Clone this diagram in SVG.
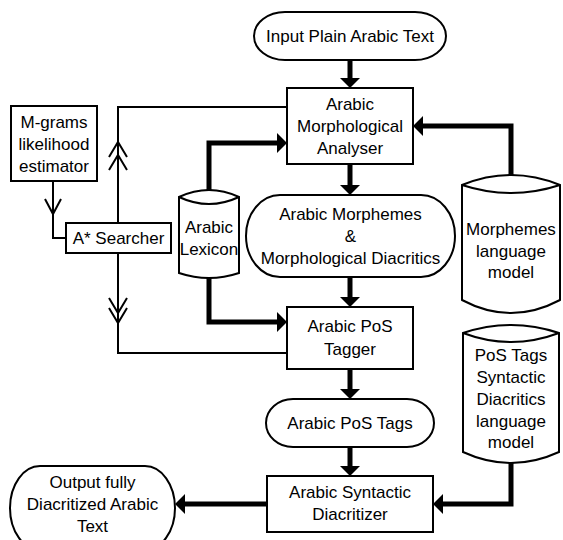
<svg xmlns="http://www.w3.org/2000/svg" width="563" height="540" viewBox="0 0 563 540">
<style>
.n{fill:#fff;stroke:#000;stroke-width:2}
.t{font-family:"Liberation Sans",Arial,sans-serif;font-size:17px;fill:#000;text-anchor:middle}
.thick{fill:none;stroke:#000;stroke-width:5;stroke-linejoin:miter}
.thin{fill:none;stroke:#000;stroke-width:2}
</style>
<defs>
<marker id="ah" viewBox="0 0 10 20" markerWidth="10" markerHeight="20" refX="1" refY="10" orient="auto" markerUnits="userSpaceOnUse">
<path d="M0,0 L10,10 L0,20 z" fill="#000"/>
</marker>
</defs>
<rect width="563" height="540" fill="#fff"/>
<g id="connectors">
<path class="thick" d="M350,60 L350,79" marker-end="url(#ah)"/>
<path class="thick" d="M350,164 L350,186" marker-end="url(#ah)"/>
<path class="thick" d="M350,277 L350,298" marker-end="url(#ah)"/>
<path class="thick" d="M350,369 L350,390" marker-end="url(#ah)"/>
<path class="thick" d="M350,447 L350,467" marker-end="url(#ah)"/>
<path class="thick" d="M209,190 L209,143 L278,143" marker-end="url(#ah)"/>
<path class="thick" d="M209,278 L209,322 L278,322" marker-end="url(#ah)"/>
<path class="thick" d="M511,175 L511,126 L422,126" marker-end="url(#ah)"/>
<path class="thick" d="M511,463 L511,504 L442,504" marker-end="url(#ah)"/>
<path class="thick" d="M267,504 L184,504" marker-end="url(#ah)"/>
<path class="thin" d="M53,181 L53,238 L66,238"/>
<polyline class="thin" points="45,199 53,214 61,199"/>
<path class="thin" d="M118,223 L118,107 L287,107"/>
<polyline class="thin" points="109,157 118,142 127,157"/>
<polyline class="thin" points="109,170 118,155 127,170"/>
<path class="thin" d="M118,253 L118,353 L287,353"/>
<polyline class="thin" points="109,298 118,313 127,298"/>
<polyline class="thin" points="109,308 118,323 127,308"/>
</g>
<g id="input">
<rect class="n" x="254" y="12" width="192" height="48" rx="31" ry="24"/>
<text class="t" x="350" y="42">Input Plain Arabic Text</text>
</g>
<g id="analyser">
<rect class="n" x="287" y="88" width="126" height="76"/>
<text class="t" x="350" y="110">Arabic</text>
<text class="t" x="350" y="132">Morphological</text>
<text class="t" x="350" y="154">Analyser</text>
</g>
<g id="mgrams">
<rect class="n" x="11" y="106" width="86" height="75"/>
<text class="t" x="54" y="128">M-grams</text>
<text class="t" x="54" y="150">likelihood</text>
<text class="t" x="54" y="172">estimator</text>
</g>
<g id="searcher">
<rect class="n" x="66" y="223" width="105" height="30"/>
<text class="t" x="118.5" y="244">A* Searcher</text>
</g>
<g id="lexicon">
<path class="n" d="M179,197 Q209,183 239,197 L239,273 Q209,283 179,273 Z"/>
<path class="n" d="M179,197 Q209,211 239,197" fill="none"/>
<text class="t" x="209" y="233">Arabic</text>
<text class="t" x="209" y="255">Lexicon</text>
</g>
<g id="morphemes">
<rect class="n" x="246" y="195" width="209" height="82" rx="34" ry="41"/>
<text class="t" x="350.5" y="220">Arabic Morphemes</text>
<text class="t" x="350.5" y="242">&amp;</text>
<text class="t" x="350.5" y="264">Morphological Diacritics</text>
</g>
<g id="morph-lm">
<path class="n" d="M462,185 Q511,165 560,185 L560,300 Q511,326 462,300 Z"/>
<path class="n" d="M462,185 Q511,201 560,185" fill="none"/>
<text class="t" x="511" y="235">Morphemes</text>
<text class="t" x="511" y="257">language</text>
<text class="t" x="511" y="278">model</text>
</g>
<g id="tagger">
<rect class="n" x="287" y="307" width="126" height="62"/>
<text class="t" x="350" y="332">Arabic PoS</text>
<text class="t" x="350" y="355">Tagger</text>
</g>
<g id="pos-lm">
<path class="n" d="M463,333 Q511,317 559,333 L559,452 Q511,474 463,452 Z"/>
<path class="n" d="M463,333 Q511,351 559,333" fill="none"/>
<text class="t" x="511" y="361">PoS Tags</text>
<text class="t" x="511" y="383">Syntactic</text>
<text class="t" x="511" y="405">Diacritics</text>
<text class="t" x="511" y="427">language</text>
<text class="t" x="511" y="448">model</text>
</g>
<g id="postags">
<rect class="n" x="266" y="399" width="168" height="48" rx="27" ry="24"/>
<text class="t" x="350" y="429">Arabic PoS Tags</text>
</g>
<g id="diacritizer">
<rect class="n" x="267" y="476" width="166" height="56"/>
<text class="t" x="350" y="498">Arabic Syntactic</text>
<text class="t" x="350" y="520">Diacritizer</text>
</g>
<g id="output">
<rect class="n" x="10" y="466" width="165" height="84" rx="30" ry="42"/>
<text class="t" x="92.5" y="488">Output fully</text>
<text class="t" x="92.5" y="510">Diacritized Arabic</text>
<text class="t" x="92.5" y="532">Text</text>
</g>
</svg>
